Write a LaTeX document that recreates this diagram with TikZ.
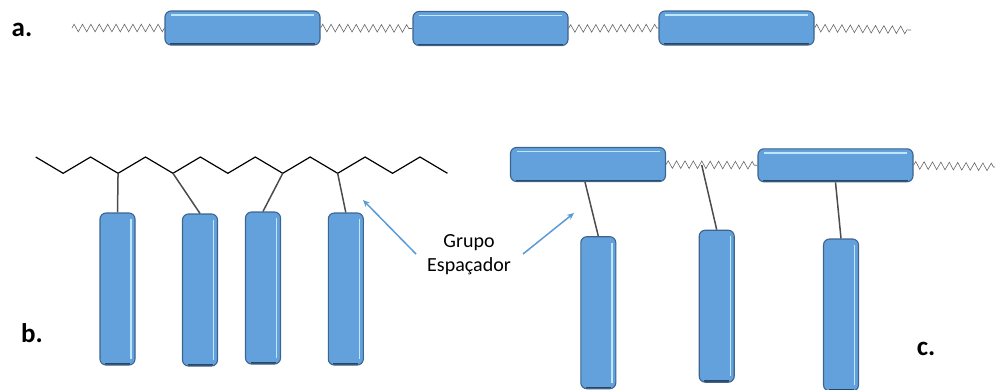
\documentclass[tikz,border=0pt]{standalone}
\usepackage{fontspec}
\setmainfont{Carlito}
\usetikzlibrary{decorations.pathmorphing,arrows.meta}

\definecolor{rodfill}{RGB}{98,161,220}
\definecolor{rodedge}{RGB}{62,100,142}
\definecolor{rodlight}{RGB}{190,230,252}
\definecolor{arrowblue}{RGB}{91,155,213}

\tikzset{
  rod/.style={draw=rodedge, fill=rodfill, rounded corners=6pt, line width=1.1pt, inner sep=0pt},
  hbar/.style={rod, minimum width=155pt, minimum height=34pt,
    path picture={
      \draw[rodlight, line width=1.4pt] ([xshift=6pt,yshift=-4pt]path picture bounding box.north west) -- ([xshift=-6pt,yshift=-4pt]path picture bounding box.north east);
      \draw[rodedge!70!black, line width=1.6pt] ([xshift=5pt,yshift=1pt]path picture bounding box.south west) -- ([xshift=-5pt,yshift=1pt]path picture bounding box.south east);
    }},
  vbar/.style={rod, minimum width=35pt, minimum height=152pt,
    path picture={
      \draw[rodlight, line width=1.4pt] ([xshift=-4pt,yshift=-6pt]path picture bounding box.north east) -- ([xshift=-4pt,yshift=6pt]path picture bounding box.south east);
      \draw[rodedge!70!black, line width=1.6pt] ([xshift=5pt,yshift=1pt]path picture bounding box.south west) -- ([xshift=-5pt,yshift=1pt]path picture bounding box.south east);
    }},
  spring/.style={gray!80!black, line width=0.6pt, decorate, decoration={zigzag, segment length=8.4pt, amplitude=3.8pt}},
  spacer/.style={black!70, line width=1.5pt},
  tag/.style={font=\fontsize{27}{29}\selectfont\bfseries},
  pointer/.style={arrowblue, line width=1.5pt, -{Stealth[length=7pt,width=6pt]}}
}

\begin{document}
\begin{tikzpicture}[x=1pt, y=-1pt]
  \useasboundingbox (0,0) rectangle (995,389);

  % a. main chain
  \node[tag] (la) at (22,30) {a.};
  \coordinate (aStart) at (72,28);
  \coordinate (aEnd) at (911,30);
  \node[hbar] (a1) at (242.5,28) {};
  \node[hbar] (a2) at (490.5,28.5) {};
  \node[hbar] (a3) at (736.5,28) {};
  \draw[spring] (aStart) -- (a1.west);
  \draw[spring] (a1.east) -- (a2.west);
  \draw[spring] (a2.east) -- (a3.west);
  \draw[spring] (a3.east) -- (aEnd);

  % b. side chain
  \node[tag] (lb) at (32,333) {b.};
  \foreach \i in {0,...,15} {
    \pgfmathsetmacro{\yy}{mod(\i,2)==0 ? 157 : 173.3}
    \coordinate (bb\i) at ({35.7+27.45*\i},\yy);
  }
  \draw[black, line width=1.2pt] (bb0) \foreach \i in {1,...,15} { -- (bb\i) };
  \node[vbar] (b1) at (117.5,289) {};
  \node[vbar] (b2) at (200,290) {};
  \node[vbar] (b3) at (263,288) {};
  \node[vbar] (b4) at (345.8,289) {};
  \draw[spacer] (bb3) -- (b1.north);
  \draw[spacer] (bb5) -- (b2.north);
  \draw[spacer] (bb9) -- (b3.north);
  \draw[spacer] (bb11) -- (b4.north);

  % label for the spacers
  \node[font=\fontsize{20}{24}\selectfont, align=center] (grupo) at (469,255) {Grupo\\Espaçador};
  \coordinate (arrL) at (416,254);
  \coordinate (tipL) at (363,200);
  \coordinate (arrR) at (523,254);
  \coordinate (tipR) at (574,213);
  \draw[pointer] (arrL) -- (tipL);
  \draw[pointer] (arrR) -- (tipR);

  % c. mixed chain
  \node[tag] (lc) at (926,349) {c.};
  \node[hbar] (c1) at (588,164.5) {};
  \node[hbar, minimum height=33pt] (c2) at (835.5,165.3) {};
  \coordinate (cEnd) at (995,167);
  \coordinate (cMid) at (701.7,165);
  \draw[spring] (c1.east) -- (c2.west);
  \draw[spring] (c2.east) -- (cEnd);
  \node[vbar] (r1) at (598.3,312.7) {};
  \node[vbar] (r2) at (716.7,306.2) {};
  \node[vbar] (r3) at (841,315) {};
  \draw[spacer] ([xshift=-3pt]c1.south) -- (r1.north);
  \draw[spacer] (cMid) -- (r2.north);
  \draw[spacer] (c2.south) -- (r3.north);
\end{tikzpicture}
\end{document}
